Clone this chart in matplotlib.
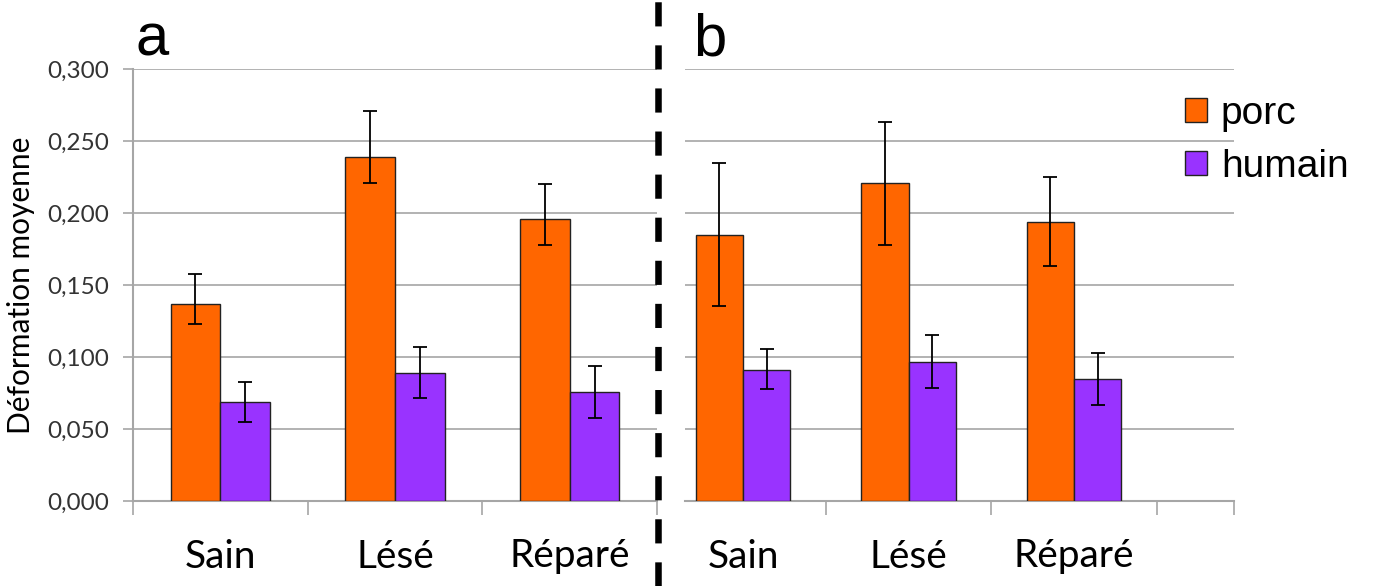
import matplotlib
matplotlib.use('Agg')
import matplotlib.pyplot as plt
from matplotlib.lines import Line2D
from matplotlib.patches import Patch
from matplotlib.ticker import FuncFormatter

#Data.
categories = ['Sain', 'Lésé', 'Réparé']
series_names = ['porc', 'humain']

a_porc = [0.1368, 0.2386, 0.1958]
a_porc_err_low = [0.0139, 0.0178, 0.0178]
a_porc_err_high = [0.0208, 0.0320, 0.0241]
a_humain = [0.0688, 0.0889, 0.0755]
a_humain_err_low = [0.0139, 0.0176, 0.0176]
a_humain_err_high = [0.0138, 0.0180, 0.0180]

b_porc = [0.1847, 0.2206, 0.1938]
b_porc_err_low = [0.0493, 0.0431, 0.0306]
b_porc_err_high = [0.0500, 0.0426, 0.0312]
b_humain = [0.0910, 0.0965, 0.0847]
b_humain_err_low = [0.0132, 0.0180, 0.0178]
b_humain_err_high = [0.0143, 0.0188, 0.0181]

y_ticks = [0.0, 0.05, 0.10, 0.15, 0.20, 0.25, 0.30]

orange = '#FF6600'
purple = '#9933FF'
grid_gray = '#A6A6A6'
text_gray = '#333333'

fig = plt.figure(figsize=(13.73, 5.86), dpi=100)

#Axes placed in pixels of the 1373x586 picture.
W, H = 1373, 586
ax_a = fig.add_axes([133 / W, 1 - 501 / H, (657 - 133) / W, (501 - 69) / H])
ax_b = fig.add_axes([685 / W, 1 - 501 / H, (1234 - 685) / W, (501 - 69) / H])

bar_w = 0.285
x = list(range(len(categories)))
x_porc = [i - bar_w / 2 for i in x]
x_hum = [i + bar_w / 2 for i in x]


def draw_panel(ax, porc, pl, ph, hum, hl, hh):
	ax.bar(x_porc, porc, width=bar_w, color=orange, edgecolor='#222222', linewidth=1.0, zorder=3)
	ax.bar(x_hum, hum, width=bar_w, color=purple, edgecolor='#222222', linewidth=1.0, zorder=3)
	ax.errorbar(x_porc, porc, yerr=[pl, ph], fmt='none', ecolor='black',
		elinewidth=1.3, capsize=4.7, capthick=1.3, zorder=4)
	ax.errorbar(x_hum, hum, yerr=[hl, hh], fmt='none', ecolor='black',
		elinewidth=1.3, capsize=4.7, capthick=1.3, zorder=4)

	ax.set_ylim(0, 0.30)
	ax.set_yticks(y_ticks)
	ax.yaxis.set_major_formatter(FuncFormatter(lambda v, p: f'{v:.3f}'.replace('.', ',')))
	ax.grid(axis='y', color=grid_gray, linewidth=1.2, zorder=0)
	ax.set_axisbelow(True)

	for side in ['top', 'right']:
		ax.spines[side].set_visible(False)
	ax.spines['bottom'].set_color(grid_gray)
	ax.spines['bottom'].set_linewidth(1.5)
	ax.spines['left'].set_color(grid_gray)
	ax.spines['left'].set_linewidth(1.5)


draw_panel(ax_a, a_porc, a_porc_err_low, a_porc_err_high,
	a_humain, a_humain_err_low, a_humain_err_high)
draw_panel(ax_b, b_porc, b_porc_err_low, b_porc_err_high,
	b_humain, b_humain_err_low, b_humain_err_high)

#Panel a: full axis with labels.
ax_a.set_xlim(-0.5, 2.5)
ax_a.set_xticks([-0.5, 0.5, 1.5, 2.5])
ax_a.tick_params(axis='y', length=7, width=1.2, color=grid_gray, pad=10,
	labelsize=17.5, labelcolor=text_gray, labelfontfamily='Lato')

#Panel b: its left part is cut off, no y axis.
b_left = (685 - 908.5) / 165.5 + 1
b_right = (1234 - 908.5) / 165.5 + 1
ax_b.set_xlim(b_left, b_right)
ax_b.set_xticks([0.5, 1.5, 2.5, b_right])
ax_b.spines['left'].set_visible(False)
ax_b.tick_params(axis='y', left=False, labelleft=False)

#Category names sit between the boundary ticks.
for ax in [ax_a, ax_b]:
	ax.tick_params(axis='x', which='major', length=10, width=1.2, color=grid_gray, labelbottom=False)
	ax.set_xticks(x, minor=True)
	ax.set_xticklabels(categories, minor=True)
	ax.tick_params(axis='x', which='minor', length=0, pad=27, labelsize=28,
		labelfontfamily='Lato', labelcolor='black')

#Y label.
fig.text(21 / W, 1 - 285 / H, 'Déformation moyenne', rotation=90, ha='center', va='center',
	fontsize=21.5, family='Lato', color='black')

#Panel letters.
fig.text(136 / W, 1 - 55 / H, 'a', fontsize=43, family='Liberation Sans', va='baseline')
fig.text(693 / W, 1 - 55 / H, 'b', fontsize=43, family='Liberation Sans', va='baseline')

#Dashed separator.
fig.add_artist(Line2D([658 / W, 658 / W], [0, 1], transform=fig.transFigure,
	color='black', linewidth=4.7, linestyle=(0, (3.7, 2.9)), solid_capstyle='butt'))

#Legend.
handles = [Patch(facecolor=orange, edgecolor='#222222', linewidth=1.0),
	Patch(facecolor=purple, edgecolor='#222222', linewidth=1.0)]
fig.legend(handles, series_names, loc='upper left', bbox_to_anchor=(1185 / W, 1 - 96 / H),
	frameon=False, prop={'family': 'Liberation Sans', 'size': 28},
	handlelength=0.57, handleheight=0.57, handletextpad=0.35, labelspacing=0.43,
	borderaxespad=0, borderpad=0)

fig.savefig('out.png', dpi=100)
